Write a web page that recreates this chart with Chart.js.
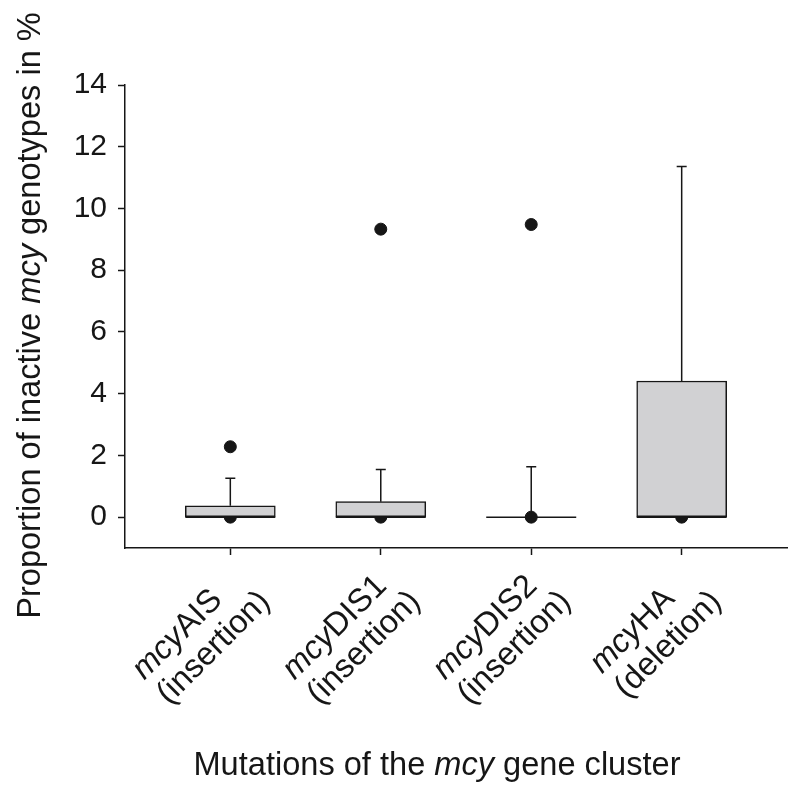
<!DOCTYPE html>
<html>
<head>
<meta charset="utf-8">
<script src="https://cdn.jsdelivr.net/npm/chart.js@4/dist/chart.umd.min.js"></script>
<style>
  html, body { margin: 0; padding: 0; background: #fff; }
  #wrap { width: 800px; height: 791px; }
</style>
</head>
<body>
<div id="wrap"><canvas id="boxChart" width="800" height="791"></canvas></div>
<script>
// data
const categories = ['mcyAIS', 'mcyDIS1', 'mcyDIS2', 'mcyHA'];
const mutationTypes = ['(insertion)', '(insertion)', '(insertion)', '(deletion)'];
const q1 = [0, 0, 0, 0];
const medians = [0, 0, 0, 0];
const q3 = [0.37, 0.50, 0, 4.41];
const whiskerHigh = [1.26, 1.54, 1.63, 11.36];
const outliersHigh = [2.28, 9.33, 9.48, null];
const outliersLow = [0, 0, 0, 0];
const yTicks = [0, 2, 4, 6, 8, 10, 12, 14];

const FONT = "'Liberation Sans', Arial, sans-serif";
const INK = '#161616';
const positions = categories.map((c, i) => i + 1);

// draws text where a leading "mcy" is italic
function drawMixed(ctx, parts, x, y, size) {
  let cx = x;
  parts.forEach(p => {
    ctx.font = (p.italic ? 'italic ' : '') + size + 'px ' + FONT;
    ctx.fillText(p.text, cx, y);
    cx += ctx.measureText(p.text).width;
  });
}
function measureMixed(ctx, parts, size) {
  let w = 0;
  parts.forEach(p => {
    ctx.font = (p.italic ? 'italic ' : '') + size + 'px ' + FONT;
    w += ctx.measureText(p.text).width;
  });
  return w;
}
function splitMcy(str) {
  if (str.startsWith('mcy')) return [{ text: 'mcy', italic: true }, { text: str.slice(3), italic: false }];
  return [{ text: str, italic: false }];
}

// median lines, drawn under the dots
const medianPlugin = {
  id: 'medians',
  beforeDatasetsDraw(chart) {
    const { ctx, scales: { x, y } } = chart;
    ctx.save();
    ctx.strokeStyle = INK;
    ctx.lineWidth = 1.5;
    positions.forEach((p, i) => {
      const px = x.getPixelForValue(p);
      const py = y.getPixelForValue(medians[i]);
      ctx.beginPath();
      ctx.moveTo(px - 45, py);
      ctx.lineTo(px + 45, py);
      ctx.stroke();
    });
    ctx.restore();
  }
};

// whiskers and caps, plus the custom text
const whiskerPlugin = {
  id: 'whiskers',
  afterDatasetsDraw(chart) {
    const { ctx, scales: { x, y } } = chart;
    ctx.save();
    ctx.strokeStyle = INK;
    ctx.lineWidth = 1.5;
    positions.forEach((p, i) => {
      const px = x.getPixelForValue(p);
      const top = y.getPixelForValue(whiskerHigh[i]);
      const from = y.getPixelForValue(q3[i]);
      ctx.beginPath();
      ctx.moveTo(px, from);
      ctx.lineTo(px, top);
      ctx.moveTo(px - 5, top);
      ctx.lineTo(px + 5, top);
      ctx.stroke();
    });
    ctx.restore();
  },
  afterDraw(chart) {
    const { ctx, scales: { x }, chartArea } = chart;
    ctx.save();
    ctx.fillStyle = INK;
    ctx.textBaseline = 'alphabetic';
    ctx.textAlign = 'left';
    const size = 32.6;
    // rotated category labels
    positions.forEach((p, i) => {
      const tx = x.getPixelForValue(p);
      const ty = chartArea.bottom;
      const lines = [splitMcy(categories[i]), [{ text: mutationTypes[i], italic: false }]];
      const widths = lines.map(l => measureMixed(ctx, l, size));
      const maxW = Math.max(...widths);
      ctx.save();
      ctx.translate(tx, ty);
      ctx.rotate(-Math.PI / 4);
      lines.forEach((l, k) => {
        drawMixed(ctx, l, -10 - maxW, 33 + k * 35, size);
      });
      ctx.restore();
    });
    // x axis title
    const xParts = [
      { text: 'Mutations of the ', italic: false },
      { text: 'mcy', italic: true },
      { text: ' gene cluster', italic: false }
    ];
    const xw = measureMixed(ctx, xParts, size);
    drawMixed(ctx, xParts, 437 - xw / 2, 775, size);
    // y axis title
    const yParts = [
      { text: 'Proportion of inactive ', italic: false },
      { text: 'mcy', italic: true },
      { text: ' genotypes in %', italic: false }
    ];
    const yw = measureMixed(ctx, yParts, size);
    ctx.save();
    ctx.translate(40, (chartArea.top + chartArea.bottom) / 2 - 1);
    ctx.rotate(-Math.PI / 2);
    drawMixed(ctx, yParts, -yw / 2, 0, size);
    ctx.restore();
    ctx.restore();
  }
};

new Chart(document.getElementById('boxChart'), {
  type: 'bar',
  data: {
    datasets: [
      {
        type: 'scatter',
        data: positions.map((p, i) => ({ x: p, y: outliersHigh[i] })).filter(d => d.y !== null),
        backgroundColor: INK,
        borderColor: INK,
        pointRadius: 6,
        order: 1
      },
      {
        type: 'bar',
        data: positions.map((p, i) => ({ x: p, y: [q1[i], q3[i]] })),
        backgroundColor: '#d1d1d3',
        borderColor: INK,
        borderWidth: 1.5,
        borderSkipped: false,
        barThickness: 90,
        order: 2
      },
      {
        type: 'scatter',
        data: positions.map((p, i) => ({ x: p, y: outliersLow[i] })),
        backgroundColor: INK,
        borderColor: INK,
        pointRadius: 6,
        order: 3
      }
    ]
  },
  options: {
    responsive: false,
    animation: false,
    layout: { padding: { top: 85, right: 13, left: 0, bottom: 0 } },
    plugins: { legend: { display: false }, tooltip: { enabled: false } },
    scales: {
      x: {
        type: 'linear',
        min: 0.3,
        max: 4.7,
        offset: false,
        afterBuildTicks: s => { s.ticks = positions.map(v => ({ value: v })); },
        afterFit: s => { s.height = 243; },
        ticks: { display: false },
        grid: { offset: false, drawOnChartArea: false, drawTicks: true, tickLength: 7, tickColor: INK, tickWidth: 1.5 },
        border: { display: true, color: INK, width: 1.5 }
      },
      y: {
        type: 'linear',
        min: -1,
        max: 14,
        afterBuildTicks: s => { s.ticks = yTicks.map(v => ({ value: v })); },
        afterFit: s => { s.width = 125; },
        ticks: { color: INK, padding: 11, font: { family: FONT, size: 30 } },
        grid: { drawOnChartArea: false, drawTicks: true, tickLength: 7, tickColor: INK, tickWidth: 1.5 },
        border: { display: true, color: INK, width: 1.5 }
      }
    }
  },
  plugins: [medianPlugin, whiskerPlugin]
});
</script>
</body>
</html>
